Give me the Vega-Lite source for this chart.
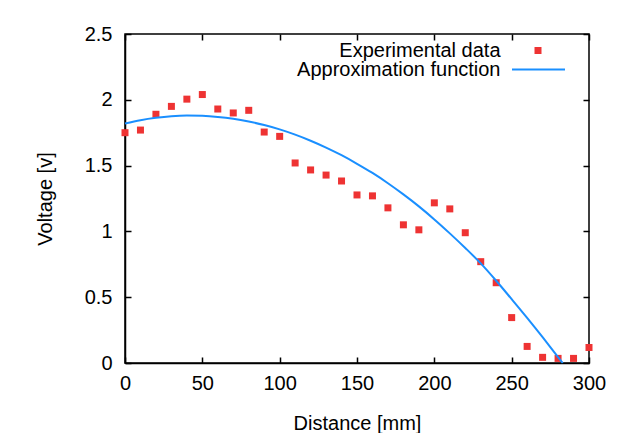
{
  "$schema": "https://vega.github.io/schema/vega-lite/v6.json",
  "width": 464,
  "height": 329,
  "autosize": {"type": "none"},
  "padding": {"left": 125, "top": 34, "right": 38, "bottom": 70},
  "background": "white",
  "datasets": {
    "exp": [
      {"distance": 0, "voltage": 1.75, "series": "Experimental data"},
      {"distance": 10, "voltage": 1.77, "series": "Experimental data"},
      {"distance": 20, "voltage": 1.89, "series": "Experimental data"},
      {"distance": 30, "voltage": 1.95, "series": "Experimental data"},
      {"distance": 40, "voltage": 2.005, "series": "Experimental data"},
      {"distance": 50, "voltage": 2.04, "series": "Experimental data"},
      {"distance": 60, "voltage": 1.93, "series": "Experimental data"},
      {"distance": 70, "voltage": 1.9, "series": "Experimental data"},
      {"distance": 80, "voltage": 1.92, "series": "Experimental data"},
      {"distance": 90, "voltage": 1.755, "series": "Experimental data"},
      {"distance": 100, "voltage": 1.722, "series": "Experimental data"},
      {"distance": 110, "voltage": 1.52, "series": "Experimental data"},
      {"distance": 120, "voltage": 1.467, "series": "Experimental data"},
      {"distance": 130, "voltage": 1.428, "series": "Experimental data"},
      {"distance": 140, "voltage": 1.383, "series": "Experimental data"},
      {"distance": 150, "voltage": 1.277, "series": "Experimental data"},
      {"distance": 160, "voltage": 1.27, "series": "Experimental data"},
      {"distance": 170, "voltage": 1.179, "series": "Experimental data"},
      {"distance": 180, "voltage": 1.05, "series": "Experimental data"},
      {"distance": 190, "voltage": 1.012, "series": "Experimental data"},
      {"distance": 200, "voltage": 1.217, "series": "Experimental data"},
      {"distance": 210, "voltage": 1.171, "series": "Experimental data"},
      {"distance": 220, "voltage": 0.99, "series": "Experimental data"},
      {"distance": 230, "voltage": 0.77, "series": "Experimental data"},
      {"distance": 240, "voltage": 0.61, "series": "Experimental data"},
      {"distance": 250, "voltage": 0.345, "series": "Experimental data"},
      {"distance": 260, "voltage": 0.126, "series": "Experimental data"},
      {"distance": 270, "voltage": 0.043, "series": "Experimental data"},
      {"distance": 280, "voltage": 0.035, "series": "Experimental data"},
      {"distance": 290, "voltage": 0.035, "series": "Experimental data"},
      {"distance": 300, "voltage": 0.118, "series": "Experimental data"}
    ],
    "fit": [
      {"distance": 0, "voltage": 1.82, "series": "Approximation function"},
      {"distance": 10, "voltage": 1.845, "series": "Approximation function"},
      {"distance": 20, "voltage": 1.863, "series": "Approximation function"},
      {"distance": 30, "voltage": 1.875, "series": "Approximation function"},
      {"distance": 40, "voltage": 1.88, "series": "Approximation function"},
      {"distance": 50, "voltage": 1.878, "series": "Approximation function"},
      {"distance": 60, "voltage": 1.87, "series": "Approximation function"},
      {"distance": 70, "voltage": 1.856, "series": "Approximation function"},
      {"distance": 80, "voltage": 1.835, "series": "Approximation function"},
      {"distance": 90, "voltage": 1.808, "series": "Approximation function"},
      {"distance": 100, "voltage": 1.775, "series": "Approximation function"},
      {"distance": 110, "voltage": 1.735, "series": "Approximation function"},
      {"distance": 120, "voltage": 1.689, "series": "Approximation function"},
      {"distance": 130, "voltage": 1.637, "series": "Approximation function"},
      {"distance": 140, "voltage": 1.579, "series": "Approximation function"},
      {"distance": 150, "voltage": 1.514, "series": "Approximation function"},
      {"distance": 160, "voltage": 1.444, "series": "Approximation function"},
      {"distance": 170, "voltage": 1.366, "series": "Approximation function"},
      {"distance": 180, "voltage": 1.281, "series": "Approximation function"},
      {"distance": 190, "voltage": 1.19, "series": "Approximation function"},
      {"distance": 200, "voltage": 1.091, "series": "Approximation function"},
      {"distance": 210, "voltage": 0.985, "series": "Approximation function"},
      {"distance": 220, "voltage": 0.874, "series": "Approximation function"},
      {"distance": 230, "voltage": 0.757, "series": "Approximation function"},
      {"distance": 240, "voltage": 0.625, "series": "Approximation function"},
      {"distance": 250, "voltage": 0.485, "series": "Approximation function"},
      {"distance": 260, "voltage": 0.343, "series": "Approximation function"},
      {"distance": 270, "voltage": 0.196, "series": "Approximation function"},
      {"distance": 280, "voltage": 0.045, "series": "Approximation function"},
      {"distance": 283, "voltage": 0.0, "series": "Approximation function"}
    ]
  },
  "layer": [
    {
      "data": {"name": "exp"},
      "mark": {"type": "square", "size": 49, "opacity": 1, "filled": true},
      "encoding": {
        "x": {
          "field": "distance", "type": "quantitative",
          "scale": {"domain": [0, 300], "nice": false, "zero": false},
          "axis": {"orient": "bottom", "title": "Distance [mm]", "values": [0, 50, 100, 150, 200, 250, 300], "ticks": false, "grid": true, "gridColor": "black", "gridWidth": 1.5, "gridOpacity": 1, "gridDash": [6, 317, 6], "labelPadding": 10, "labelFlush": false, "titlePadding": 20}
        },
        "y": {
          "field": "voltage", "type": "quantitative",
          "scale": {"domain": [0, 2.5], "nice": false},
          "axis": {"orient": "left", "title": "Voltage [v]", "values": [0, 0.5, 1, 1.5, 2, 2.5], "format": "~g", "ticks": false, "grid": true, "gridColor": "black", "gridWidth": 1.5, "gridOpacity": 1, "gridDash": [6, 452, 6], "labelPadding": 13, "labelFlush": false, "titlePadding": 29}
        },
        "color": {
          "field": "series", "type": "nominal",
          "scale": {"domain": ["Experimental data"], "range": ["#ee3333"]},
          "legend": {"title": null, "orient": "none", "legendX": 403, "legendY": 6.5, "padding": 0, "labelAlign": "right", "labelOffset": -47.5, "symbolSize": 49, "symbolType": "square", "labelFontSize": 20, "labelFont": "Liberation Sans", "labelColor": "black", "labelLimit": 0}
        }
      }
    },
    {
      "data": {"name": "fit"},
      "mark": {"type": "line", "strokeWidth": 2, "interpolate": "monotone"},
      "encoding": {
        "x": {
          "field": "distance", "type": "quantitative",
          "scale": {"domain": [0, 300], "nice": false, "zero": false},
          "axis": null
        },
        "y": {
          "field": "voltage", "type": "quantitative",
          "scale": {"domain": [0, 2.5], "nice": false},
          "axis": null
        },
        "stroke": {
          "field": "series", "type": "nominal",
          "scale": {"domain": ["Approximation function"], "range": ["#1a8fff"]},
          "legend": {"title": null, "orient": "none", "legendX": 386, "legendY": 8, "padding": 0, "labelAlign": "right", "labelOffset": -65.5, "symbolSize": 2809, "symbolType": "stroke", "symbolStrokeWidth": 2, "labelFontSize": 20, "labelFont": "Liberation Sans", "labelColor": "black", "labelLimit": 0}
        }
      }
    }
  ],
  "resolve": {"axis": {"x": "independent", "y": "independent"}},
  "config": {
    "view": {"stroke": "black", "strokeWidth": 1.5},
    "axis": {
      "domainColor": "black",
      "domainWidth": 1.5,
      "labelFont": "Liberation Sans",
      "labelFontSize": 20,
      "labelColor": "black",
      "titleFont": "Liberation Sans",
      "titleFontSize": 20,
      "titleFontWeight": "normal",
      "titleColor": "black"
    }
  }
}
